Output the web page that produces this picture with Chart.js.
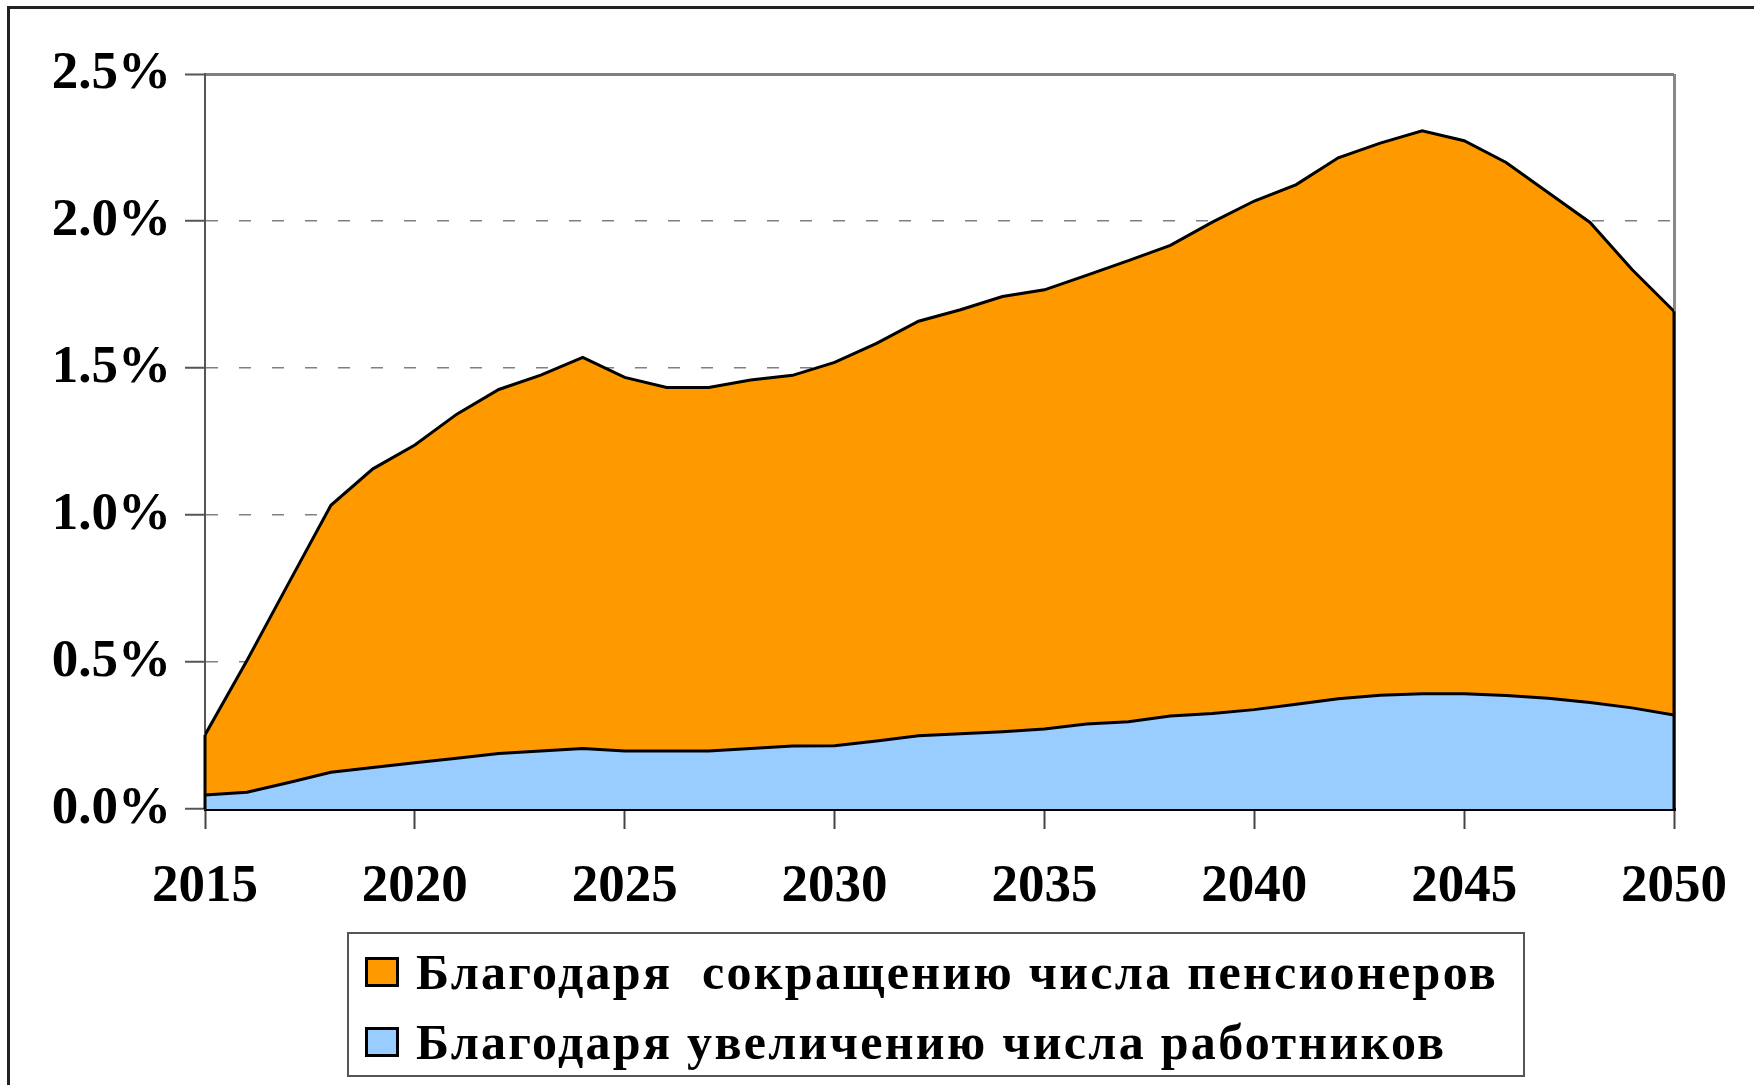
<!DOCTYPE html>
<html>
<head>
<meta charset="utf-8">
<script src="https://cdn.jsdelivr.net/npm/chart.js@4.4.0/dist/chart.umd.min.js"></script>
<style>
  html, body { margin: 0; padding: 0; background: #fff; }
  #wrap { position: relative; width: 1754px; height: 1085px; overflow: hidden; }
  #frame { position: absolute; left: 7px; top: 6px; width: 1800px; height: 1200px;
           border-left: 3px solid #222; border-top: 3px solid #222; }
  #legend { position: absolute; left: 347px; top: 932px; width: 1178px; height: 145px;
            border: 2px solid #555; box-sizing: border-box;
            font-family: "Liberation Serif", "Times New Roman", serif; font-weight: bold;
            font-size: 50px; letter-spacing: 2.3px; color: #000; }
  .row { position: absolute; left: 16px; height: 30px; white-space: pre; display: flex; align-items: center; }
  .sw { width: 34px; height: 30px; border: 3px solid #000; box-sizing: border-box; margin-right: 17px; flex: none; }
</style>
</head>
<body>
<div id="wrap">
  <canvas id="chart" width="1754" height="1085"></canvas>
  <div id="frame"></div>
  <div id="legend"></div>
</div>
<script>
  const years = [2015, 2016, 2017, 2018, 2019, 2020, 2021, 2022, 2023, 2024, 2025, 2026,
                 2027, 2028, 2029, 2030, 2031, 2032, 2033, 2034, 2035, 2036, 2037, 2038,
                 2039, 2040, 2041, 2042, 2043, 2044, 2045, 2046, 2047, 2048, 2049, 2050];

  // вклад увеличения числа работников, %
  const workers = [0.048, 0.057, 0.090, 0.125, 0.141, 0.157, 0.173, 0.189, 0.197, 0.206, 0.197, 0.197,
                   0.197, 0.206, 0.214, 0.215, 0.231, 0.249, 0.256, 0.263, 0.272, 0.289, 0.297, 0.316,
                   0.325, 0.338, 0.356, 0.375, 0.387, 0.392, 0.392, 0.386, 0.377, 0.362, 0.344, 0.320];

  // вклад сокращения числа пенсионеров, %
  const pensioners = [0.204, 0.448, 0.680, 0.908, 1.016, 1.081, 1.170, 1.238, 1.279, 1.330, 1.271, 1.237,
                      1.237, 1.253, 1.261, 1.304, 1.353, 1.410, 1.442, 1.480, 1.494, 1.526, 1.568, 1.601,
                      1.671, 1.730, 1.768, 1.840, 1.878, 1.915, 1.881, 1.813, 1.720, 1.633, 1.491, 1.373];

  const yTicks = [0, 0.5, 1.0, 1.5, 2.0, 2.5];
  const seriesNames = ["Благодаря  сокращению числа пенсионеров", "Благодаря увеличению числа работников"];
  const colors = ["#FF9900", "#99CCFF"];

  var font = { family: "'Liberation Serif', 'Times New Roman', serif", size: 53, weight: "bold" };

  // вертикальные края областей (как в Excel)
  const edges = {
    id: "edges",
    afterDatasetsDraw(chart) {
      const top = chart.getDatasetMeta(1).data;
      const ctx = chart.ctx;
      const y0 = chart.scales.y.getPixelForValue(0);
      ctx.save();
      ctx.strokeStyle = "#000";
      ctx.lineWidth = 3;
      [0, top.length - 1].forEach(function (i) {
        ctx.beginPath();
        ctx.moveTo(top[i].x, y0);
        ctx.lineTo(top[i].x, top[i].y);
        ctx.stroke();
      });
      ctx.restore();
    }
  };

  var ctx = document.getElementById("chart");
  var chartGraph = new Chart(ctx, {
    type: "line",
    data: {
      labels: years,
      datasets: [
        {
          label: seriesNames[1],
          data: workers,
          backgroundColor: colors[1],
          borderColor: "#000",
          borderWidth: 3,
          fill: "origin",
          pointRadius: 0,
          tension: 0
        },
        {
          label: seriesNames[0],
          data: pensioners,
          backgroundColor: colors[0],
          borderColor: "#000",
          borderWidth: 3,
          fill: "-1",
          pointRadius: 0,
          tension: 0
        }
      ]
    },
    options: {
      responsive: false,
      animation: false,
      layout: { padding: { left: 0, right: 79, top: 74, bottom: 0 } },
      plugins: { legend: { display: false }, tooltip: { enabled: false } },
      scales: {
        x: {
          type: "linear",
          min: 2015,
          max: 2050,
          afterFit: function (s) { s.height = 276; },
          ticks: { stepSize: 5, color: "#000", font: font, padding: 27, maxRotation: 0,
                   callback: function (v) { return String(v); } },
          grid: {
            drawOnChartArea: true,
            color: function (c) { return c.tick && c.tick.value === 2050 ? "#888" : "rgba(0,0,0,0)"; },
            lineWidth: 3,
            tickColor: "#444",
            tickLength: 20,
            tickWidth: 2
          },
          border: { display: true, color: "#000", width: 3 }
        },
        y: {
          stacked: true,
          min: 0,
          max: 2.5,
          afterFit: function (s) { s.width = 205; },
          afterBuildTicks: function (s) { s.ticks = yTicks.map(function (v) { return { value: v }; }); },
          ticks: { color: "#000", font: font, padding: 14,
                   callback: function (v) { return v.toFixed(1) + "%"; } },
          grid: {
            color: "#808080",
            lineWidth: function (c) { return c.tick && c.tick.value === 2.5 ? 3 : 1.5; },
            tickColor: "#555",
            tickLength: 20,
            tickWidth: 2
          },
          border: {
            display: true, color: "#555", width: 2,
            dash: function (c) {
              if (!c.tick) return [];
              return (c.tick.value === 0 || c.tick.value === 2.5) ? [] : [12, 21];
            }
          }
        }
      }
    },
    plugins: [edges]
  });

  // легенда в рамке
  var leg = document.getElementById("legend");
  [0, 1].forEach(function (i) {
    var row = document.createElement("div");
    row.className = "row";
    row.style.top = (i === 0 ? 23 : 93) + "px";
    var sw = document.createElement("span");
    sw.className = "sw";
    sw.style.background = colors[i];
    var tx = document.createElement("span");
    tx.textContent = seriesNames[i];
    row.appendChild(sw);
    row.appendChild(tx);
    leg.appendChild(row);
  });
</script>
</body>
</html>
